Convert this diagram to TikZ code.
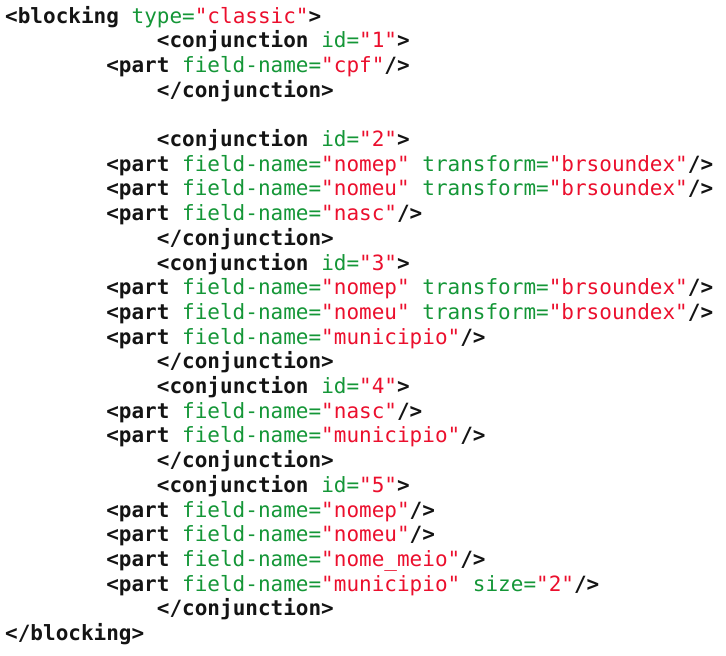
\documentclass[tikz,border=0pt]{standalone}
\usepackage{fontspec}
\newfontfamily\codefont{DejaVu Sans Mono}
\definecolor{tagblack}{RGB}{20,20,20}
\definecolor{attgreen}{RGB}{20,150,55}
\definecolor{valred}{RGB}{235,15,45}
\newcommand{\tg}[1]{{\bfseries\color{tagblack}#1}}
\newcommand{\at}[1]{{\color{attgreen}#1}}
\newcommand{\vl}[1]{{\color{valred}"#1"}}

\begin{document}
\begin{tikzpicture}[x=1pt,y=-1pt,
		line/.style={anchor=base west,inner sep=0pt,font=\codefont\fontsize{21}{25}\selectfont}]
		\useasboundingbox (0,0) rectangle (726,656);
		% indents: 0, 8 and 12 characters
		\def\ia{5}
		\def\ib{106.1}
		\def\ic{156.7}
		\node[line] (l1) at (\ia,23) {\tg{<blocking} \at{type=}\vl{classic}\tg{>}};
		\node[line] (l2) at (\ic,47.7) {\tg{<conjunction} \at{id=}\vl{1}\tg{>}};
		\node[line] (l3) at (\ib,72.4) {\tg{<part} \at{field-name=}\vl{cpf}\tg{/>}};
		\node[line] (l4) at (\ic,97.1) {\tg{</conjunction>}};

		\node[line] (l6) at (\ic,146.5) {\tg{<conjunction} \at{id=}\vl{2}\tg{>}};
		\node[line] (l7) at (\ib,171.2) {\tg{<part} \at{field-name=}\vl{nomep} \at{transform=}\vl{brsoundex}\tg{/>}};
		\node[line] (l8) at (\ib,195.9) {\tg{<part} \at{field-name=}\vl{nomeu} \at{transform=}\vl{brsoundex}\tg{/>}};
		\node[line] (l9) at (\ib,220.6) {\tg{<part} \at{field-name=}\vl{nasc}\tg{/>}};
		\node[line] (l10) at (\ic,245.3) {\tg{</conjunction>}};
		\node[line] (l11) at (\ic,270) {\tg{<conjunction} \at{id=}\vl{3}\tg{>}};
		\node[line] (l12) at (\ib,294.7) {\tg{<part} \at{field-name=}\vl{nomep} \at{transform=}\vl{brsoundex}\tg{/>}};
		\node[line] (l13) at (\ib,319.4) {\tg{<part} \at{field-name=}\vl{nomeu} \at{transform=}\vl{brsoundex}\tg{/>}};
		\node[line] (l14) at (\ib,344.1) {\tg{<part} \at{field-name=}\vl{municipio}\tg{/>}};
		\node[line] (l15) at (\ic,368.8) {\tg{</conjunction>}};
		\node[line] (l16) at (\ic,393.5) {\tg{<conjunction} \at{id=}\vl{4}\tg{>}};
		\node[line] (l17) at (\ib,418.2) {\tg{<part} \at{field-name=}\vl{nasc}\tg{/>}};
		\node[line] (l18) at (\ib,442.9) {\tg{<part} \at{field-name=}\vl{municipio}\tg{/>}};
		\node[line] (l19) at (\ic,467.6) {\tg{</conjunction>}};
		\node[line] (l20) at (\ic,492.3) {\tg{<conjunction} \at{id=}\vl{5}\tg{>}};
		\node[line] (l21) at (\ib,517) {\tg{<part} \at{field-name=}\vl{nomep}\tg{/>}};
		\node[line] (l22) at (\ib,541.7) {\tg{<part} \at{field-name=}\vl{nomeu}\tg{/>}};
		\node[line] (l23) at (\ib,566.4) {\tg{<part} \at{field-name=}\vl{nome\_meio}\tg{/>}};
		\node[line] (l24) at (\ib,591.1) {\tg{<part} \at{field-name=}\vl{municipio} \at{size=}\vl{2}\tg{/>}};
		\node[line] (l25) at (\ic,615.8) {\tg{</conjunction>}};
		\node[line] (l26) at (\ia,640.5) {\tg{</blocking>}};
\end{tikzpicture}
\end{document}
